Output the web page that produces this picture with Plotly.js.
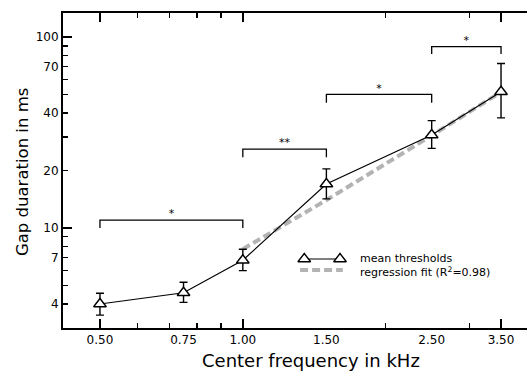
<!DOCTYPE html>
<html>
<head>
<meta charset="utf-8">
<script src="https://cdn.plot.ly/plotly-3.0.1.min.js"></script>
<style>html,body{margin:0;padding:0;background:#fff;}#chart{width:527px;height:372px;}</style>
</head>
<body>
<div id="chart"></div>
<script>
// ---- data ----
const freqs = [0.5, 0.75, 1.0, 1.5, 2.5, 3.5];
const meanThresholds = [4.0, 4.58, 6.78, 17.0, 30.7, 51.7];
const errPlus = [0.55, 0.62, 0.96, 3.4, 5.8, 21.0];
const errMinus = [0.50, 0.50, 0.80, 2.8, 4.6, 14.0];

const fitFreqs = [1.0, 1.5, 2.5, 3.5];
const fitValues = [7.75, 14.0, 30.5, 51.5];

const brkLeft = [0.5, 1.0, 1.5, 2.5];
const brkRight = [1.0, 1.5, 2.5, 3.5];
const brkTop = [11.0, 25.9, 50.1, 89.0];
const brkBottom = [10.0, 23.5, 45.3, 81.5];
const brkLabel = ['*', '**', '*', '*'];

const xTickVals = [0.5, 0.75, 1.0, 1.5, 2.5, 3.5];
const xTickText = ['0.50', '0.75', '1.00', '1.50', '2.50', '3.50'];
const yTickVals = [4, 7, 10, 20, 40, 70, 100];
const yTickText = ['4', '7', '10', '20', '40', '70', '100'];

const legendLabels = ['mean thresholds', 'regression fit (R<sup>2</sup>=0.98)'];

// ---- plot ----
const FONT = 'DejaVu Sans, sans-serif';
const traces = [];

// regression fit
traces.push({
  x: fitFreqs, y: fitValues, type: 'scatter', mode: 'lines',
  line: {color: '#b3b3b3', width: 4, dash: '8px,4px'},
  hoverinfo: 'skip', showlegend: false
});

// brackets
for (let i = 0; i < brkLeft.length; i++) {
  traces.push({
    x: [brkLeft[i], brkLeft[i], brkRight[i], brkRight[i]],
    y: [brkBottom[i], brkTop[i], brkTop[i], brkBottom[i]],
    type: 'scatter', mode: 'lines',
    line: {color: 'black', width: 1.3},
    hoverinfo: 'skip', showlegend: false
  });
}
// bracket labels
traces.push({
  x: brkLeft.map((l, i) => Math.sqrt(l * brkRight[i])),
  y: brkTop,
  text: brkLabel,
  type: 'scatter', mode: 'text', textposition: 'top center',
  textfont: {family: FONT, size: 11, color: 'black'},
  hoverinfo: 'skip', showlegend: false
});

// mean thresholds
traces.push({
  x: freqs, y: meanThresholds, type: 'scatter', mode: 'lines+markers',
  line: {color: 'black', width: 1.2},
  marker: {symbol: 'triangle-up', size: 11, color: 'white', line: {color: 'black', width: 1.4}},
  error_y: {type: 'data', symmetric: false, array: errPlus, arrayminus: errMinus,
            color: 'black', thickness: 1.4, width: 4},
  showlegend: false
});

// legend marks (overlay axes in unit coordinates)
traces.push({
  x: [0.520, 0.597], y: [0.219, 0.219], xaxis: 'x3', yaxis: 'y3',
  type: 'scatter', mode: 'lines+markers',
  line: {color: 'black', width: 1.2},
  marker: {symbol: 'triangle-up', size: 11, color: 'white', line: {color: 'black', width: 1.4}},
  hoverinfo: 'skip', showlegend: false
});
traces.push({
  x: [0.511, 0.603], y: [0.184, 0.184], xaxis: 'x3', yaxis: 'y3',
  type: 'scatter', mode: 'lines',
  line: {color: '#b3b3b3', width: 4, dash: '8px,4px'},
  hoverinfo: 'skip', showlegend: false
});
// dummy trace for long-tick axes
traces.push({x: [1], y: [10], xaxis: 'x2', yaxis: 'y2', mode: 'markers',
  marker: {opacity: 0}, hoverinfo: 'skip', showlegend: false});

const xRange = [-0.3789, 0.5988];
const yRange = [0.4764, 2.1257];

const layout = {
  width: 527, height: 372,
  margin: {l: 63, r: 0, t: 13, b: 44},
  paper_bgcolor: 'white', plot_bgcolor: 'white',
  font: {family: FONT, color: 'black', size: 12},
  showlegend: false,
  xaxis: {
    type: 'log', range: xRange, showgrid: false, zeroline: false,
    tickmode: 'array', tickvals: xTickVals, ticktext: xTickText,
    ticks: 'inside', ticklen: 0,
    tickfont: {family: FONT, size: 12, color: 'black'},
    showline: true, linecolor: 'black', linewidth: 2, mirror: 'ticks',
    minor: {tickmode: 'array', tickvals: [0.6, 0.7, 0.8, 0.9, 2, 3], ticks: 'inside',
            ticklen: 5, tickwidth: 1.5, tickcolor: 'black', showgrid: false}
  },
  xaxis2: {
    type: 'log', range: xRange, overlaying: 'x', anchor: 'y', side: 'bottom',
    showgrid: false, zeroline: false, showline: false, showticklabels: false,
    tickmode: 'array', tickvals: [0.5, 1.0, 3.5], ticks: 'inside', ticklen: 9,
    tickwidth: 1.5, tickcolor: 'black', mirror: 'ticks'
  },
  yaxis: {
    type: 'log', range: yRange, showgrid: false, zeroline: false,
    tickmode: 'array', tickvals: yTickVals, ticktext: yTickText,
    ticks: 'inside', ticklen: 5, tickwidth: 1.5, tickcolor: 'black',
    tickfont: {family: FONT, size: 12, color: 'black'},
    showline: true, linecolor: 'black', linewidth: 2, mirror: false,
    minor: {tickmode: 'array', tickvals: [5, 6, 8, 9, 30, 50, 60, 80, 90], ticks: 'inside',
            ticklen: 5, tickwidth: 1.5, tickcolor: 'black', showgrid: false}
  },
  yaxis2: {
    type: 'log', range: yRange, overlaying: 'y', anchor: 'x', side: 'left',
    showgrid: false, zeroline: false, showline: false, showticklabels: false,
    tickmode: 'array', tickvals: [10, 100], ticks: 'inside', ticklen: 9,
    tickwidth: 1.5, tickcolor: 'black'
  },
  xaxis3: {range: [0, 1], overlaying: 'x', anchor: 'y3', visible: false, fixedrange: true},
  yaxis3: {range: [0, 1], overlaying: 'y', anchor: 'x3', visible: false, fixedrange: true},
  annotations: [
    {text: 'Center frequency in kHz', xref: 'paper', yref: 'paper', x: 0.5345, y: -0.103,
     xanchor: 'center', yanchor: 'middle', showarrow: false,
     font: {family: FONT, size: 18, color: 'black'}},
    {text: 'Gap duaration in ms', xref: 'paper', yref: 'paper', x: -0.0884, y: 0.495,
     xanchor: 'center', yanchor: 'middle', showarrow: false, textangle: -90,
     font: {family: FONT, size: 16.5, color: 'black'}},
    {text: legendLabels[0] + '<br>' + legendLabels[1], xref: 'paper', yref: 'paper',
     x: 0.638, y: 0.198, xanchor: 'left', yanchor: 'middle', align: 'left',
     showarrow: false, borderpad: 0,
     font: {family: FONT, size: 11, color: 'black'}}
  ]
};

Plotly.newPlot('chart', traces, layout, {staticPlot: true, displayModeBar: false});
</script>
</body>
</html>
